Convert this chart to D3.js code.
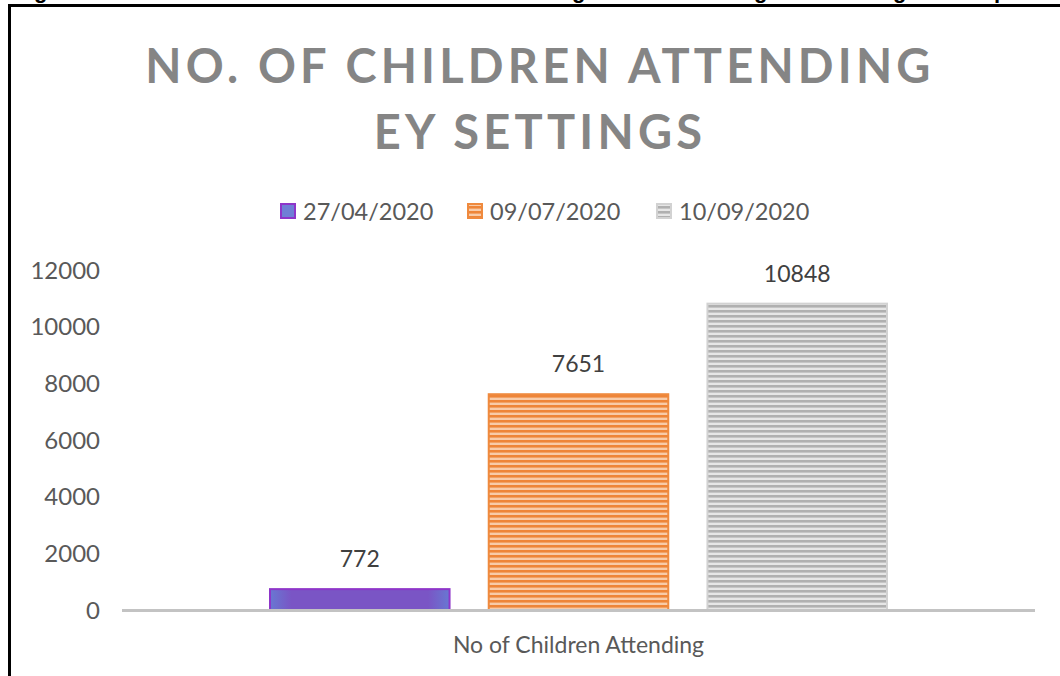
<!DOCTYPE html>
<html lang="en"><head><meta charset="UTF-8">
<title>No. of children attending EY settings</title>
<script src="https://cdn.jsdelivr.net/npm/d3@7/dist/d3.min.js"></script>
<style>
  html, body { margin:0; padding:0; background:#fff; }
  svg { display:block; }
</style>
</head>
<body>
<div id="chart"></div>
<script>
// chart data
const category = ["No of Children Attending"];
const seriesNames = ["27/04/2020", "09/07/2020", "10/09/2020"];
const seriesValues = [772, 7651, 10848];
const yTicks = [0, 2000, 4000, 6000, 8000, 10000, 12000];
const titleLines = ["NO. OF CHILDREN ATTENDING", "EY SETTINGS"];

const W = 1060, H = 676;
const svg = d3.select("#chart").append("svg").attr("width", W).attr("height", H);
const defs = svg.append("defs");

// purple bar: flat fill, bluish at the sides
const gp = defs.append("linearGradient").attr("id", "gPurple").attr("x1", "0").attr("x2", "1").attr("y1", "0").attr("y2", "0");
gp.append("stop").attr("offset", "0").attr("stop-color", "#6878d2");
gp.append("stop").attr("offset", "0.12").attr("stop-color", "#7a55c5");
gp.append("stop").attr("offset", "0.88").attr("stop-color", "#7a55c5");
gp.append("stop").attr("offset", "1").attr("stop-color", "#6878d2");

// narrow horizontal stripe patterns
function stripes(id, dark, light) {
  const p = defs.append("pattern").attr("id", id).attr("patternUnits", "userSpaceOnUse")
    .attr("width", 8).attr("height", 5);
  p.append("rect").attr("width", 8).attr("height", 5).attr("fill", light);
  p.append("rect").attr("y", 0).attr("width", 8).attr("height", 2.6).attr("fill", dark);
}
stripes("pOrange", "#ee8538", "#f8cba8");
stripes("pGray", "#b0b0b0", "#e6e6e6");

const fills = ["url(#gPurple)", "url(#pOrange)", "url(#pGray)"];
const strokes = ["#8e35c9", "#ef8a3e", "#d2d2d2"];
const legendFills = ["#6f7ed6", "url(#pOrange)", "url(#pGray)"];

// frame and the cut-off caption above it
svg.append("line").attr("x1", 8).attr("x2", W).attr("y1", 5.5).attr("y2", 5.5).attr("stroke", "#000").attr("stroke-width", 3);
svg.append("line").attr("x1", 9.5).attr("x2", 9.5).attr("y1", 4).attr("y2", H).attr("stroke", "#000").attr("stroke-width", 3);
[["g", 34], ["g", 572], ["g", 754], ["g", 893], ["p", 994]].forEach(function(d) {
  svg.append("text").attr("x", d[1]).attr("y", -2).text(d[0])
    .attr("font-family", "Liberation Sans, Arial, sans-serif").attr("font-weight", "bold")
    .attr("font-size", 22).attr("fill", "#000");
});

const FONT = "Lato, 'Open Sans', sans-serif";

// title
svg.selectAll(".title").data(titleLines).enter().append("text")
  .attr("class", "title")
  .attr("x", 540)
  .attr("y", function(d, i) { return 83 + i * 66; })
  .attr("text-anchor", "middle")
  .attr("font-family", FONT).attr("font-weight", "bold")
  .attr("font-size", 47).attr("letter-spacing", 4.2)
  .attr("fill", "#858585")
  .text(function(d) { return d; });

// scales
const y = d3.scaleLinear().domain([0, 12000]).range([610, 270]);
const x0 = d3.scaleBand().domain(category).range([122, 1035]).paddingOuter(0.2375).paddingInner(0);
const x1 = d3.scaleBand().domain(seriesNames).range([0, x0.bandwidth()]).paddingInner(0.17).paddingOuter(0);

// legend
const legend = svg.append("g").attr("transform", "translate(0,211)");
const legendX = [280, 467, 656];
seriesNames.forEach(function(name, i) {
  const g = legend.append("g").attr("transform", "translate(" + legendX[i] + ",0)");
  g.append("rect").attr("x", 1).attr("y", -7).attr("width", 14).attr("height", 14)
    .attr("fill", legendFills[i]).attr("stroke", strokes[i]).attr("stroke-width", 2);
  g.append("text").attr("x", 23).attr("y", 8.5).text(name)
    .attr("font-family", FONT).attr("font-size", 23.5).attr("fill", "#595959");
});

// y axis
const yAxis = svg.append("g").attr("transform", "translate(103,0)")
  .call(d3.axisLeft(y).tickValues(yTicks).tickSize(0).tickPadding(3).tickFormat(d3.format("d")));
yAxis.select(".domain").remove();
yAxis.selectAll("text").attr("font-family", FONT).attr("font-size", 24).attr("fill", "#595959").attr("dy", "0.34em");

// bars
const grp = svg.selectAll(".cat").data(category).enter().append("g")
  .attr("class", "cat")
  .attr("transform", function(d) { return "translate(" + x0(d) + ",0)"; });

const bars = seriesNames.map(function(n, i) { return { name: n, value: seriesValues[i], i: i }; });

grp.selectAll("rect").data(bars).enter().append("rect")
  .attr("x", function(d) { return x1(d.name) + 1; })
  .attr("y", function(d) { return y(d.value) + 1; })
  .attr("width", x1.bandwidth() - 2)
  .attr("height", function(d) { return y(0) - y(d.value) - 1; })
  .attr("fill", function(d) { return fills[d.i]; })
  .attr("stroke", function(d) { return strokes[d.i]; })
  .attr("stroke-width", 2);

grp.selectAll(".lbl").data(bars).enter().append("text")
  .attr("class", "lbl")
  .attr("x", function(d) { return x1(d.name) + x1.bandwidth() / 2; })
  .attr("y", function(d) { return y(d.value) - 21; })
  .attr("text-anchor", "middle")
  .attr("font-family", FONT).attr("font-size", 23).attr("fill", "#404040")
  .text(function(d) { return d.value; });

// category axis line and label
svg.append("line").attr("x1", 122).attr("x2", 1035).attr("y1", y(0) + 0.5).attr("y2", y(0) + 0.5)
  .attr("stroke", "#c3c3c3").attr("stroke-width", 3);

svg.selectAll(".xlab").data(category).enter().append("text")
  .attr("class", "xlab")
  .attr("x", function(d) { return x0(d) + x0.bandwidth() / 2; })
  .attr("y", 653)
  .attr("text-anchor", "middle")
  .attr("font-family", FONT).attr("font-size", 23).attr("fill", "#595959")
  .text(function(d) { return d; });
</script>
</body></html>
